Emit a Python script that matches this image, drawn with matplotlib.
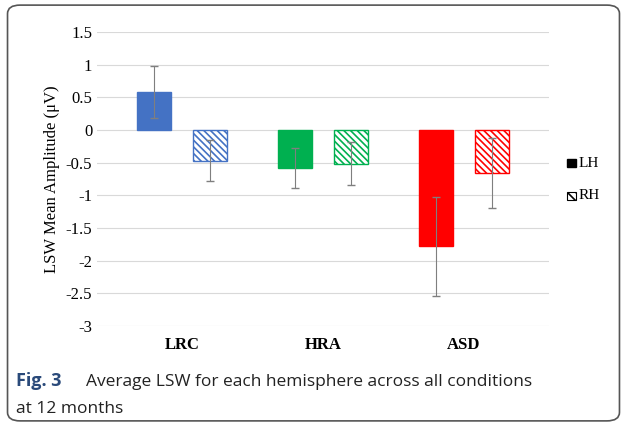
import matplotlib
matplotlib.use("Agg")
import matplotlib.pyplot as plt
from matplotlib.patches import FancyBboxPatch, Rectangle

categories = ["LRC", "HRA", "ASD"]
lh_values = [0.58, -0.58, -1.78]
rh_values = [-0.47, -0.52, -0.66]
lh_err = [0.40, 0.31, 0.76]
rh_err = [0.31, 0.33, 0.53]
colors = ["#4472C4", "#00B050", "#FF0000"]
yticks = [1.5, 1, 0.5, 0, -0.5, -1, -1.5, -2, -2.5, -3]

plt.rcParams['hatch.linewidth'] = 1.2
fig = plt.figure(figsize=(6.27, 4.26), dpi=100)
border = FancyBboxPatch((0.012, 0.012), 0.976, 0.976, boxstyle="round,pad=0,rounding_size=0.02",
                        transform=fig.transFigure, fill=False, edgecolor="#555555", lw=1.2)
fig.patches.append(border)

ax = fig.add_axes([0.155, 0.235, 0.72, 0.69])
serif = "Liberation Serif"
x = range(len(categories))
w = 0.24
for i in x:
    ax.bar(i - 0.2, lh_values[i], w, color=colors[i], edgecolor=colors[i], zorder=3)
    ax.errorbar(i - 0.2, lh_values[i], yerr=lh_err[i], color="#7f7f7f", lw=0.8, capsize=3, zorder=4)
    ax.bar(i + 0.2, rh_values[i], w, facecolor="white", edgecolor=colors[i], hatch="\\\\\\\\\\", lw=1, zorder=3)
    ax.errorbar(i + 0.2, rh_values[i], yerr=rh_err[i], color="#7f7f7f", lw=0.8, capsize=3, zorder=4)

ax.set_ylim(-3, 1.5)
ax.set_xlim(-0.6, 2.6)
ax.set_yticks(yticks)
ax.set_yticklabels([f"{t:g}" for t in yticks], fontfamily=serif, fontsize=12)
ax.set_xticks(list(x))
ax.set_xticklabels(categories, fontfamily=serif, fontsize=12, fontweight="bold")
ax.tick_params(length=0)
ax.tick_params(axis="x", pad=8)
for s in ax.spines.values():
    s.set_visible(False)
ax.grid(axis="y", color="#D9D9D9", lw=0.8, zorder=0)
ax.set_ylabel("LSW Mean Amplitude (\u03bcV)", fontfamily=serif, fontsize=12)

fig.patches.append(Rectangle((0.905, 0.607), 0.014, 0.02, transform=fig.transFigure, color="black"))
fig.text(0.922, 0.617, "LH", fontfamily=serif, fontsize=11, va="center")
fig.patches.append(Rectangle((0.905, 0.530), 0.014, 0.02, transform=fig.transFigure,
                             facecolor="white", edgecolor="black", hatch="\\\\\\\\", lw=0.8))
fig.text(0.922, 0.540, "RH", fontfamily=serif, fontsize=11, va="center")

fig.text(0.025, 0.095, "Fig. 3", fontfamily="Open Sans", fontsize=13, fontweight="bold", color="#2a4a7a")
fig.text(0.137, 0.095, "Average LSW for each hemisphere across all conditions",
         fontfamily="Open Sans", fontsize=12.5, color="#222222")
fig.text(0.025, 0.03, "at 12 months", fontfamily="Open Sans", fontsize=12.5, color="#222222")

fig.savefig("out.png", dpi=100)
